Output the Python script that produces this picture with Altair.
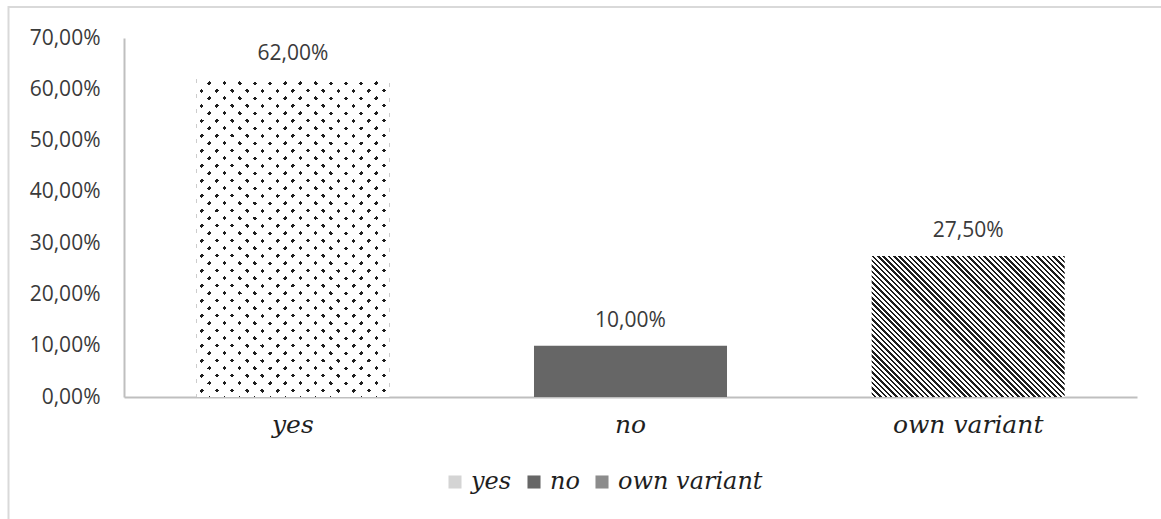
import math
import altair as alt
import pandas as pd

# ---- data ----
categories = ["yes", "no", "own variant"]
shares = [0.62, 0.10, 0.275]
y_ticks = [0.0, 0.1, 0.2, 0.3, 0.4, 0.5, 0.6, 0.7]

df = pd.DataFrame({"cat": categories, "share": shares})

# ---- layout constants ----
PLOT_W, PLOT_H = 1013, 359
LEFT, TOP = 124, 38
Y_MAX = 0.7
PAD_INNER = 0.4284
STEP = PLOT_W / len(categories)
BAR_W = STEP * (1 - PAD_INNER)


def bar_h(v):
    return v / Y_MAX * PLOT_H


def stripes(w, h, d, spacing, lw, on, off):
    """Linear gradient (bbox units) that draws parallel lines along pixel direction d."""
    nx, ny = -d[1], d[0]
    ux, uy = nx * w, ny * h
    n = math.hypot(ux, uy)
    ux, uy = ux / n, uy / n
    projs = [cx * ux + cy * uy for cx in (0, 1) for cy in (0, 1)]
    tmin, tmax = min(projs), max(projs)
    L = tmax - tmin
    g = math.hypot(ux / w, uy / h) / L
    dt, lt = spacing * g, lw * g
    stops = [alt.GradientStop(color=off, offset=0)]
    k = 0
    while k * dt < 1:
        a = k * dt
        b = min(a + lt, 1)
        stops += [
            alt.GradientStop(color=off, offset=a),
            alt.GradientStop(color=on, offset=a),
            alt.GradientStop(color=on, offset=b),
            alt.GradientStop(color=off, offset=b),
        ]
        k += 1
    stops.append(alt.GradientStop(color=off, offset=1))
    return alt.LinearGradient(
        gradient="linear", stops=stops,
        x1=ux * tmin, y1=uy * tmin, x2=ux * tmax, y2=uy * tmax,
    )


h_yes, h_no, h_own = bar_h(shares[0]), bar_h(shares[1]), bar_h(shares[2])

yes_under = stripes(BAR_W, h_yes, (7.6, -7.5), 10.67, 3.0, "#1e1e1e", "#ffffff")
yes_mask = stripes(BAR_W, h_yes, (7.6, 7.5), 10.67, 3.0, "rgba(255,255,255,0)", "#ffffff")
own_fill = stripes(BAR_W, h_own, (1, 1), 3.75, 1.7, "#1e1e1e", "#ffffff")

SANS = "Open Sans"
SERIF = "DejaVu Serif"

x_enc = alt.X(
    "cat:N",
    sort=categories,
    scale=alt.Scale(domain=categories, paddingInner=PAD_INNER, paddingOuter=PAD_INNER / 2),
    axis=alt.Axis(
        title=None, labelAngle=0, ticks=False, tickSize=0,
        domainColor="#bfbfbf", domainWidth=2,
        labelFont=SERIF, labelFontStyle="italic", labelFontSize=25,
        labelColor="#1f1f1f", labelPadding=15,
    ),
)
y_enc = alt.Y(
    "share:Q",
    scale=alt.Scale(domain=[0, Y_MAX], nice=False),
    axis=alt.Axis(
        title=None, values=y_ticks, grid=False, ticks=False, tickSize=0,
        domainColor="#bfbfbf", domainWidth=2,
        labelFont=SANS, labelFontSize=21, labelColor="#3a3a3a", labelPadding=24,
        labelExpr="replace(format(datum.value, '.2%'), '.', ',')",
    ),
)

base = alt.Chart(df)

yes_bottom = base.transform_filter(alt.datum.cat == "yes").mark_bar(fill=yes_under).encode(x=x_enc, y=y_enc)
yes_top = base.transform_filter(alt.datum.cat == "yes").mark_bar(fill=yes_mask).encode(x=x_enc, y=y_enc)
no_bar = base.transform_filter(alt.datum.cat == "no").mark_bar(fill="#666666").encode(x=x_enc, y=y_enc)
own_bar = base.transform_filter(alt.datum.cat == "own variant").mark_bar(fill=own_fill).encode(x=x_enc, y=y_enc)

legend_layer = base.mark_bar(opacity=0).encode(
    x=x_enc, y=y_enc,
    color=alt.Color(
        "cat:N",
        scale=alt.Scale(domain=categories, range=["#d4d4d4", "#666666", "#8c8c8c"]),
        legend=alt.Legend(
            title=None, orient="none", direction="horizontal",
            legendX=319, legendY=432,
            symbolType="square", symbolSize=170, symbolOpacity=1, symbolStrokeWidth=0,
            labelFont=SERIF, labelFontStyle="italic", labelFontSize=24,
            labelColor="#1f1f1f", labelOffset=4, columnPadding=10,
        ),
    ),
)

labels = base.transform_calculate(
    label="replace(format(datum.share, '.2%'), '.', ',')"
).mark_text(
    dy=-25, baseline="middle", align="center",
    font=SANS, fontSize=21, color="#3a3a3a",
).encode(x=x_enc, y=y_enc, text="label:N")

border = alt.Chart(alt.Data(values=[{}])).mark_rect(
    fillOpacity=0, stroke="#d9d9d9", strokeWidth=2
).encode(
    x=alt.value(8.5 - LEFT), x2=alt.value(1161 - LEFT + 30),
    y=alt.value(7 - TOP), y2=alt.value(519 - TOP + 30),
)

chart = alt.layer(
    border, yes_bottom, yes_top, no_bar, own_bar, legend_layer, labels
).properties(
    width=PLOT_W, height=PLOT_H,
    autosize=alt.AutoSizeParams(type="none"),
    padding={"left": LEFT, "top": TOP, "right": 1161 - LEFT - PLOT_W, "bottom": 519 - TOP - PLOT_H},
    background="white",
).configure_view(strokeWidth=0)

chart.save("out.html", embed_options={"renderer": "svg", "actions": False})
